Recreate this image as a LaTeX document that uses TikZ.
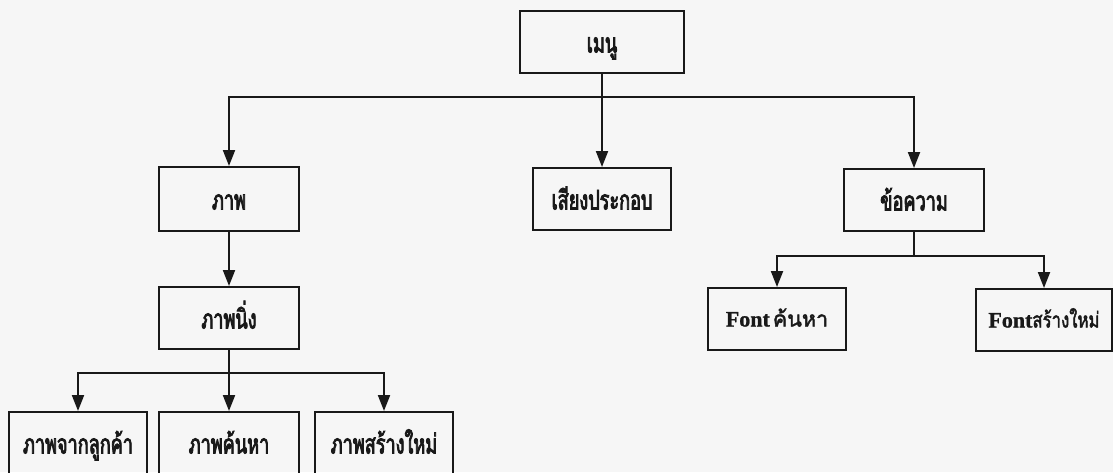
\documentclass[tikz,border=0pt]{standalone}
\usepackage{fontspec}
\setmainfont{Liberation Serif}
\newfontfamily\thaifont[Script=Thai,FakeStretch=0.67,FakeBold=3]{Loma}
\newfontfamily\thaiwide[Script=Thai,FakeBold=2]{Loma}
\newfontfamily\thainarrow[Script=Thai,FakeBold=2,FakeStretch=0.78]{Loma}
\newfontfamily\latfont[FakeBold=1]{Liberation Serif}
\usetikzlibrary{arrows.meta}
\definecolor{bgcol}{RGB}{246,246,246}
\definecolor{inkcol}{RGB}{25,25,25}
\newcommand{\fontword}{{\latfont\bfseries\fontsize{22}{26}\selectfont Font}}
\begin{document}
\begin{tikzpicture}[x=1pt,y=-1pt,
  box/.style={draw=inkcol, line width=2pt, minimum width=138pt, minimum height=62pt,
    inner sep=0pt, text height=21pt, text depth=0pt, text=inkcol,
    font=\thaifont\fontsize{27}{30}\selectfont},
  fbox/.style={box, text height=15pt, text depth=0pt, font=\thaiwide\fontsize{21.5}{25}\selectfont},
  link/.style={draw=inkcol, line width=2pt},
  arr/.style={link, -{Triangle[length=16pt,width=12pt]}}]
\fill[bgcol] (0,0) rectangle (1113,472);
\useasboundingbox (0,0) rectangle (1113,472);
\clip (0,0) rectangle (1113,472);
% nodes
\node[box, minimum width=164pt] (menu) at (602,42) {เมนู};
\node[box, minimum width=140pt, minimum height=64pt] (pic) at (229,199) {ภาพ};
\node[box] (sound) at (602,199) {เสียงประกอบ};
\node[box, minimum width=140pt] (msg) at (914,200) {ข้อความ};
\node[box, minimum width=140pt] (still) at (229,318) {ภาพนิ่ง};
\node[fbox] (fsearch) at (777,319) {\fontword\hspace{3pt}ค้นหา};
\node[fbox, minimum width=136pt, font=\thainarrow\fontsize{21.5}{25}\selectfont] (fnew) at (1044,320) {\fontword{}สร้างใหม่};
\node[box] (pcust) at (78,443) {ภาพจากลูกค้า};
\node[box, minimum width=140pt] (psearch) at (229,443) {ภาพค้นหา};
\node[box] (pnew) at (384,443) {ภาพสร้างใหม่};
% junctions
\coordinate (j1) at (602,97);
\coordinate (j2) at (229,373);
\coordinate (j3) at (914,256);
% connectors
\draw[arr] (menu.south) -- (sound.north);
\draw[arr] (j1) -| (pic.north);
\draw[arr] (j1) -| (msg.north);
\draw[arr] (pic.south) -- (still.north);
\draw[link] (still.south) -- (j2);
\draw[arr] (j2) -| (pcust.north);
\draw[arr] (j2) -- (psearch.north);
\draw[arr] (j2) -| (pnew.north);
\draw[link] (msg.south) -- (j3);
\draw[arr] (j3) -| (fsearch.north);
\draw[arr] (j3) -| (fnew.north);
\end{tikzpicture}
\end{document}
